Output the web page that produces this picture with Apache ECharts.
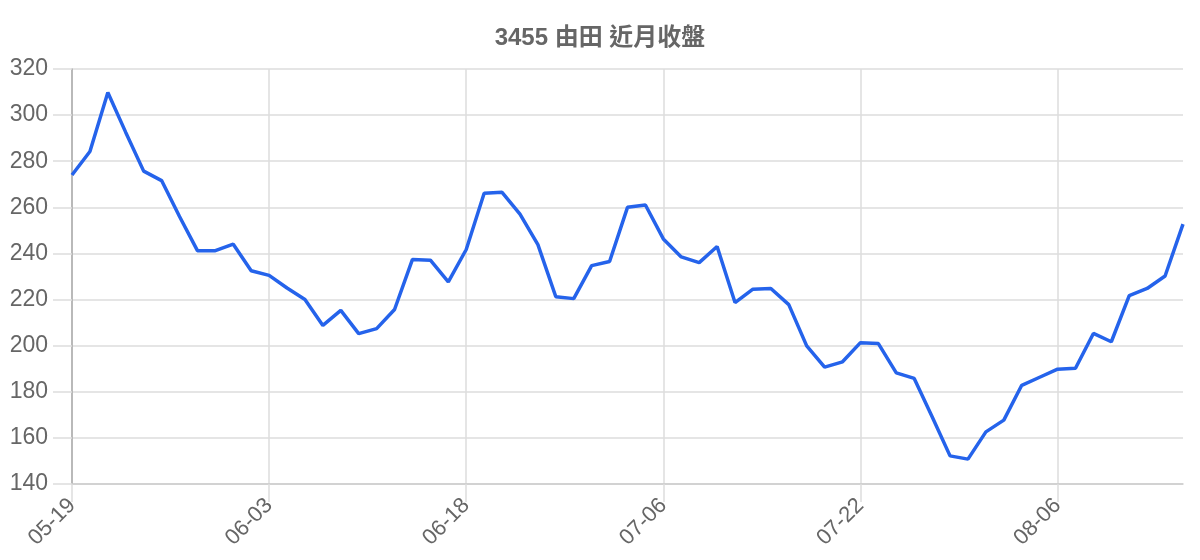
<!DOCTYPE html>
<html>
<head>
<meta charset="utf-8">
<script src="https://cdn.jsdelivr.net/npm/echarts@6/dist/echarts.min.js"></script>
<style>
html,body{margin:0;padding:0;background:#fff;}
#chart{width:1200px;height:560px;}
</style>
</head>
<body>
<div id="chart"></div>
<script>
const titleText = '3455 由田 近月收盤';
const categories = ['05-19','05-20','05-21','05-22','05-25','05-26','05-27','05-28','05-29','06-01','06-02','06-03','06-04','06-05','06-08','06-09','06-10','06-11','06-12','06-15','06-16','06-17','06-18','06-22','06-23','06-24','06-25','06-26','06-29','06-30','07-01','07-02','07-03','07-06','07-07','07-08','07-09','07-13','07-14','07-15','07-16','07-17','07-20','07-21','07-22','07-23','07-24','07-27','07-28','07-29','07-30','07-31','08-03','08-04','08-05','08-06','08-07','08-10','08-11','08-12','08-13','08-14','08-17'];
const closeValues = [274.0,284.2,309.8,292.5,275.7,271.6,256.0,241.2,241.2,244.0,232.5,230.5,225.0,220.0,208.8,215.3,205.2,207.4,215.7,237.4,237.1,227.7,241.7,266.1,266.5,257.1,243.8,221.2,220.4,234.7,236.5,260.0,261.0,246.3,238.5,236.0,243.0,218.7,224.5,224.8,217.8,199.9,190.7,193.0,201.3,200.9,188.2,185.8,169.2,152.2,150.8,162.6,167.7,182.8,186.3,189.8,190.2,205.3,201.7,221.7,224.8,230.2,252.7];
const yMin = 140, yMax = 320, yInterval = 20;

const font = "'Liberation Sans', 'Noto Sans CJK TC', sans-serif";
const chart = echarts.init(document.getElementById('chart'));
chart.setOption({
  animation: false,
  backgroundColor: '#fff',
  title: {
    text: titleText,
    left: 'center',
    top: 21,
    textStyle: {color: '#666', fontSize: 24, fontWeight: 'bold', fontFamily: font}
  },
  grid: {left: 72, right: 17, top: 69, bottom: 76, containLabel: false},
  xAxis: {
    type: 'category',
    data: categories,
    boundaryGap: false,
    axisLine: {lineStyle: {color: '#ccc', width: 1.5}},
    axisTick: {show: true, interval: 10, length: 18, lineStyle: {color: '#ddd', width: 1.5}},
    axisLabel: {interval: 10, rotate: 45, margin: 18, color: '#666', fontSize: 22, fontFamily: font},
    splitLine: {show: true, interval: 10, lineStyle: {color: '#ddd', width: 1.5}}
  },
  yAxis: {
    type: 'value',
    min: yMin, max: yMax, interval: yInterval,
    axisLine: {show: true, lineStyle: {color: '#aaa', width: 1.5}},
    axisTick: {show: true, length: 19, lineStyle: {color: '#ddd', width: 1.5}},
    axisLabel: {margin: 24, color: '#666', fontSize: 23, fontFamily: font},
    splitLine: {show: true, lineStyle: {color: '#ddd', width: 1.5}}
  },
  series: [{
    type: 'line',
    data: closeValues,
    showSymbol: false,
    symbol: 'none',
    lineStyle: {color: '#2563eb', width: 3.5},
    itemStyle: {color: '#2563eb'}
  }]
});
</script>
</body>
</html>
